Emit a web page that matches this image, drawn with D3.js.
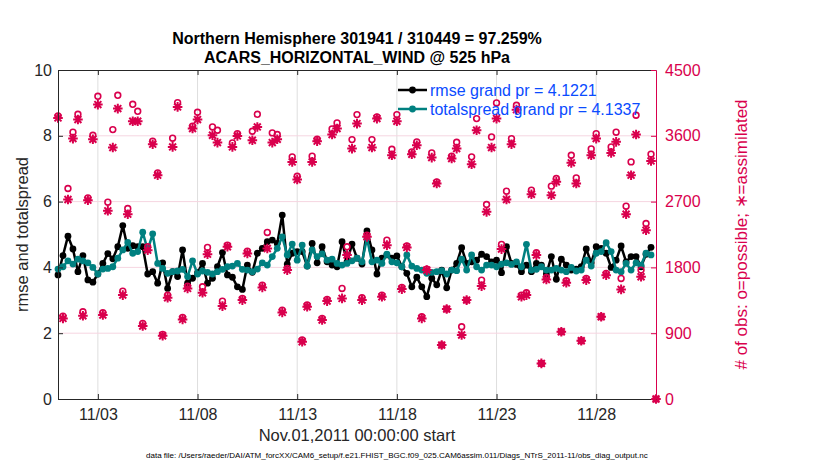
<!DOCTYPE html>
<html>
<head>
<meta charset="utf-8">
<script src="https://cdn.jsdelivr.net/npm/d3@7"></script>
<style>
  body { margin: 0; background: #fff; }
  svg { display: block; font-family: "Liberation Sans", Arial, Helvetica, sans-serif; }
</style>
</head>
<body>
<div id="chart"></div>
<script>
// 6-hourly bins starting Nov.01,2011 00:00
const rmse = [
  3.77, 4.36, 4.95, 4.56, 3.87, 4.36, 3.62, 3.55, 3.80, 4.12, 4.42, 4.26, 4.63, 5.27, 4.58, 4.66,
  4.63, 4.63, 3.80, 3.87, 3.52, 4.14, 3.36, 3.87, 3.72, 4.53, 3.52, 3.67, 3.84, 4.12, 3.52, 3.67,
  4.02, 4.45, 3.77, 3.70, 3.41, 3.33, 4.07, 3.85, 4.43, 4.58, 4.78, 4.83, 4.73, 5.59, 4.10, 4.43,
  4.48, 4.48, 4.04, 4.73, 4.14, 4.63, 4.17, 4.07, 4.02, 4.78, 4.17, 4.71, 4.28, 4.10, 5.11, 4.53,
  3.80, 4.28, 4.38, 4.28, 4.35, 4.02, 3.82, 3.41, 3.70, 3.41, 3.11, 3.67, 3.47, 3.92, 3.38, 3.92,
  4.12, 4.60, 4.12, 4.17, 4.22, 4.40, 4.33, 4.17, 4.22, 3.84, 4.63, 4.12, 4.09, 3.87, 4.07, 3.87,
  4.12, 4.07, 3.80, 4.33, 3.64, 4.25, 4.07, 3.92, 3.95, 4.02, 4.56, 4.14, 4.63, 4.58, 4.43, 4.00,
  4.22, 4.65, 4.17, 4.33, 4.33, 4.02, 4.40, 4.61
];
const totalspread = [
  3.95, 4.02, 4.20, 4.10, 4.25, 4.20, 4.14, 4.00, 3.80, 3.95, 3.97, 4.02, 4.28, 4.53, 4.76, 4.43,
  4.48, 5.07, 4.53, 5.02, 4.12, 3.97, 3.82, 3.87, 3.89, 3.94, 3.72, 4.20, 3.80, 3.89, 3.85, 3.80,
  3.87, 3.94, 4.02, 4.04, 4.12, 3.94, 3.92, 3.87, 3.95, 4.14, 4.07, 4.33, 4.58, 4.93, 4.38, 4.71,
  4.22, 4.68, 4.04, 4.53, 4.33, 4.41, 4.22, 4.25, 4.12, 4.07, 4.12, 4.20, 4.28, 4.17, 4.88, 4.17,
  4.22, 4.12, 4.40, 4.17, 4.14, 4.02, 4.38, 4.04, 3.97, 3.92, 3.82, 3.85, 3.87, 3.90, 3.80, 3.92,
  3.90, 4.25, 3.92, 4.38, 4.02, 3.92, 4.07, 4.07, 4.02, 4.10, 4.14, 4.09, 4.17, 4.02, 4.70, 3.92,
  3.94, 4.02, 3.92, 3.92, 3.97, 3.92, 3.87, 4.00, 3.89, 3.92, 4.22, 4.04, 4.43, 4.48, 4.75, 4.48,
  3.92, 3.87, 4.12, 3.92, 4.14, 4.07, 4.43, 4.38
];
const possible = [
  3870, 1134, 2879, 3649, 3894, 1193, 2751, 3607, 4140, 1180, 2692, 3685, 4154, 1476, 2605, 4031,
  3935, 1034, 2082, 3526, 3093, 884, 1421, 3567, 4054, 1116, 1544, 3731, 3922, 1535, 2073, 3721,
  3676, 1339, 2104, 3503, 3630, 1376, 2022, 3662, 3894, 1558, 2278, 3640, 3617, 1216, 1786, 3312,
  3047, 806, 1285, 3321, 3553, 1102, 1362, 3694, 3776, 1512, 2082, 3548, 3890, 1385, 2241, 3548,
  3858, 1421, 2173, 3416, 3890, 1526, 2095, 3380, 3517, 1125, 1777, 3366, 2970, 738, 1230, 3321,
  3512, 988, 1353, 3312, 3835, 1626, 2660, 3585, 4049, 2114, 2842, 3562, 4018, 1421, 1453, 2856,
  2000, 487, 1663, 2911, 3015, 920, 1617, 3334, 3024, 797, 1649, 3421, 3630, 1125, 1717, 3448,
  3649, 1649, 2637, 3243, 3881, 1763, 2400, 3348, 0
];
const assimilated = [
  3845, 1102, 2729, 3562, 3822, 1139, 2719, 3553, 4027, 1148, 2574, 3439, 3972, 1421, 2528, 3799,
  3799, 998, 2036, 3485, 3061, 865, 1385, 3448, 3995, 1089, 1512, 3699, 3822, 1453, 1981, 3608,
  3507, 1271, 2082, 3448, 3598, 1353, 1991, 3539, 3721, 1526, 2059, 3507, 3553, 1184, 1763, 3243,
  3002, 783, 1262, 3243, 3526, 1080, 1339, 3617, 3699, 1376, 1968, 3425, 3767, 1353, 2218, 3439,
  3835, 1398, 2104, 3334, 3799, 1503, 2073, 3348, 3471, 1102, 1763, 3302, 2947, 738, 1230, 3289,
  3425, 875, 1353, 3211, 3676, 1544, 2560, 3439, 3835, 2050, 2729, 3485, 3958, 1398, 1421, 2801,
  1968, 487, 1635, 2788, 2970, 920, 1590, 3230, 2947, 797, 1626, 3334, 3562, 1125, 1694, 3366,
  3517, 1499, 2528, 3061, 3617, 1672, 2309, 3257, 0
];

const binHours = 6;
const xTicks = [2, 7, 12, 17, 22, 27];
const xTickLabels = ["11/03", "11/08", "11/13", "11/18", "11/23", "11/28"];
const leftTicks = [0, 2, 4, 6, 8, 10];
const rightTicks = [0, 900, 1800, 2700, 3600, 4500];
const legendLabels = ["rmse grand pr = 4.1221", "totalspread grand pr = 4.1337"];

const titleLines = ["Northern Hemisphere 301941 / 310449 = 97.259%", "ACARS_HORIZONTAL_WIND @ 525 hPa"];
const xLabel = "Nov.01,2011 00:00:00 start";
const leftLabel = "rmse and totalspread";
const rightLabel = "# of obs: o=possible; \u2217=assimilated";
const footer = "data file: /Users/raeder/DAI/ATM_forcXX/CAM6_setup/f.e21.FHIST_BGC.f09_025.CAM6assim.011/Diags_NTrS_2011-11/obs_diag_output.nc";

const colors = { rmse: "#000000", spread: "#008080", obs: "#d9004d", legendText: "#0a4bff", axis: "#262626" };

const width = 830, height = 470;
const margin = { top: 70, right: 174, bottom: 71, left: 58 };
const plotW = width - margin.left - margin.right;
const plotH = height - margin.top - margin.bottom;

// bin centre time in days since start
const days = possible.map((_, i) => i * binHours / 24);

const x = d3.scaleLinear().domain([0, 30]).range([0, plotW]);
const yL = d3.scaleLinear().domain([0, 10]).range([plotH, 0]);
const yR = d3.scaleLinear().domain([0, 4500]).range([plotH, 0]);

const svg = d3.select("#chart").append("svg")
  .attr("width", width)
  .attr("height", height);

const g = svg.append("g")
  .attr("transform", `translate(${margin.left},${margin.top})`);

// grid
g.append("g").selectAll("line")
  .data(xTicks)
  .join("line")
  .attr("x1", d => x(d)).attr("x2", d => x(d))
  .attr("y1", 0).attr("y2", plotH)
  .attr("stroke", "#dedede").attr("stroke-width", 1);
g.append("g").selectAll("line")
  .data(rightTicks.slice(1, -1))
  .join("line")
  .attr("x1", 0).attr("x2", plotW)
  .attr("y1", d => yR(d)).attr("y2", d => yR(d))
  .attr("stroke", "#f6d6e1").attr("stroke-width", 1);

// rmse and spread lines with markers
function drawSeries(values, color) {
  const line = d3.line()
    .x((d, i) => x(days[i]))
    .y(d => yL(d));
  g.append("path")
    .datum(values)
    .attr("fill", "none")
    .attr("stroke", color)
    .attr("stroke-width", 2.5)
    .attr("stroke-linejoin", "round")
    .attr("d", line);
  g.append("g").selectAll("circle")
    .data(values)
    .join("circle")
    .attr("cx", (d, i) => x(days[i]))
    .attr("cy", d => yL(d))
    .attr("r", 3.4)
    .attr("fill", color);
}
drawSeries(rmse, colors.rmse);
drawSeries(totalspread, colors.spread);

// obs counts on the right axis
const star = s => `M${-s},0H${s}M0,${-s}V${s}M${-s * 0.72},${-s * 0.72}L${s * 0.72},${s * 0.72}M${-s * 0.72},${s * 0.72}L${s * 0.72},${-s * 0.72}`;
g.append("g").selectAll("path")
  .data(assimilated)
  .join("path")
  .attr("transform", (d, i) => `translate(${x(days[i])},${yR(d)})`)
  .attr("d", star(4.8))
  .attr("fill", "none")
  .attr("stroke", colors.obs)
  .attr("stroke-width", 2);
g.append("g").selectAll("circle")
  .data(possible)
  .join("circle")
  .attr("cx", (d, i) => x(days[i]))
  .attr("cy", d => yR(d))
  .attr("r", 2.9)
  .attr("fill", "none")
  .attr("stroke", colors.obs)
  .attr("stroke-width", 1.6);

// axes
function styleAxis(sel, color, size) {
  sel.attr("font-size", size).attr("font-family", null).style("color", color);
}
g.append("g")
  .attr("transform", `translate(0,${plotH})`)
  .call(d3.axisBottom(x).tickValues(xTicks).tickFormat((d, i) => xTickLabels[i])
    .tickSizeInner(-5).tickSizeOuter(0).tickPadding(10))
  .call(sel => styleAxis(sel, colors.axis, 16));
g.append("g")
  .call(d3.axisTop(x).tickValues(xTicks).tickFormat("")
    .tickSizeInner(-5).tickSizeOuter(0))
  .call(sel => styleAxis(sel, colors.axis, 16));
g.append("g")
  .call(d3.axisLeft(yL).tickValues(leftTicks).tickFormat(d3.format("d"))
    .tickSizeInner(-5).tickSizeOuter(0).tickPadding(6))
  .call(sel => styleAxis(sel, colors.axis, 16));
g.append("g")
  .attr("transform", `translate(${plotW},0)`)
  .call(d3.axisRight(yR).tickValues(rightTicks).tickFormat(d3.format("d"))
    .tickSizeInner(-5).tickSizeOuter(0).tickPadding(9))
  .call(sel => styleAxis(sel, colors.obs, 16));

// legend (no box)
const legend = g.append("g").attr("transform", `translate(${398 - margin.left},${90 - margin.top})`);
[colors.rmse, colors.spread].forEach((c, i) => {
  const row = legend.append("g").attr("transform", `translate(0,${i * 19})`);
  row.append("line").attr("x1", 0).attr("x2", 29).attr("stroke", c).attr("stroke-width", 2.5);
  row.append("circle").attr("cx", 14.5).attr("r", 3.4).attr("fill", c);
  row.append("text")
    .attr("x", 32).attr("y", 5.8)
    .attr("font-size", 16)
    .attr("fill", colors.legendText)
    .text(legendLabels[i]);
});

// titles and labels
const cx = margin.left + plotW / 2;
svg.selectAll("text.title")
  .data(titleLines)
  .join("text")
  .attr("class", "title")
  .attr("x", cx)
  .attr("y", (d, i) => 43.5 + i * 19.5)
  .attr("text-anchor", "middle")
  .attr("font-size", 16)
  .attr("font-weight", "bold")
  .attr("fill", "#000")
  .text(d => d);

svg.append("text")
  .attr("x", cx).attr("y", 441)
  .attr("text-anchor", "middle")
  .attr("font-size", 16.5)
  .attr("fill", colors.axis)
  .text(xLabel);

svg.append("text")
  .attr("transform", `translate(28,${margin.top + plotH / 2}) rotate(-90)`)
  .attr("text-anchor", "middle")
  .attr("font-size", 16.5)
  .attr("fill", colors.axis)
  .text(leftLabel);

svg.append("text")
  .attr("transform", `translate(747,${margin.top + plotH / 2}) rotate(-90)`)
  .attr("text-anchor", "middle")
  .attr("font-size", 17)
  .attr("fill", colors.obs)
  .text(rightLabel);

// footer: scale font so the line spans the same width as the original
const foot = svg.append("text")
  .attr("x", 146).attr("y", 457.5)
  .attr("font-size", 8)
  .attr("fill", "#000")
  .text(footer);
const fw = foot.node().getComputedTextLength();
foot.attr("font-size", 8 * 503 / fw);
</script>
</body>
</html>
